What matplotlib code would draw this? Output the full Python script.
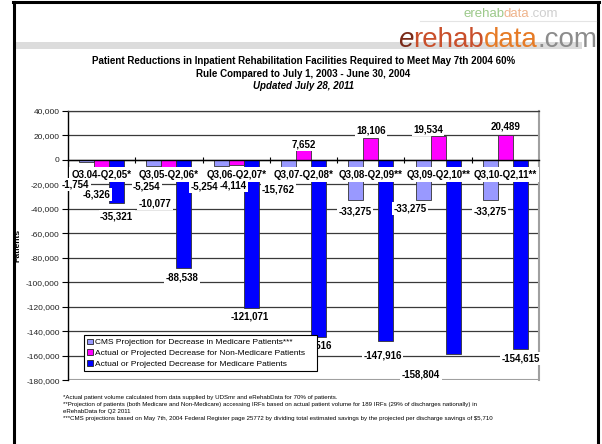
import matplotlib
matplotlib.use("Agg")
import matplotlib.pyplot as plt
from matplotlib.patches import Patch, Rectangle
from matplotlib.lines import Line2D

plt.rcParams['font.family'] = ['Liberation Sans', 'DejaVu Sans']

# ---------------- data ----------------
categories = ["Q3,04-Q2,05*", "Q3,05-Q2,06*", "Q3,06-Q2,07*", "Q3,07-Q2,08*",
              "Q3,08-Q2,09**", "Q3,09-Q2,10**", "Q3,10-Q2,11**"]
cms_projection = [-1754, -5254, -5254, -15762, -33275, -33275, -33275]
non_medicare = [-6326, -10077, -4114, 7652, 18106, 19534, 20489]
medicare = [-35321, -88538, -121071, -144516, -147916, -158804, -154615]

series_names = ["CMS Projection for Decrease in Medicare Patients***",
                "Actual or Projected Decrease for Non-Medicare Patients",
                "Actual or Projected Decrease for Medicare Patients"]
series_colors = ["#9999FF", "#FF00FF", "#0000FF"]

yticks = list(range(-180000, 40001, 20000))

title_lines = ["Patient Reductions in Inpatient Rehabilitation Facilities Required to Meet May 7th 2004 60%",
               "Rule Compared to July 1, 2003 - June 30, 2004"]
subtitle = "Updated July 28, 2011"
footnotes = ["*Actual patient volume calculated from data supplied by UDSmr and eRehabData for 70% of patients.",
             "**Projection of patients (both Medicare and Non-Medicare) accessing IRFs based on actual patient volume for 189 IRFs (29% of discharges nationally) in",
             "eRehabData for Q2 2011",
             "***CMS projections based on May 7th, 2004 Federal Register page 25772 by dividing total estimated savings by the projected per discharge savings of $5,710"]

# label offsets (pixels) relative to bar end, per series
label_offsets = [
    [(-11, -23), (-7, -20), (-17, -20), (-10, -10), (-1, -11), (-13, -8), (0, -11)],
    [(-5, -27), (-14, -31), (-3, -21), (0, 6), (0, 7), (-10, 6), (0, 8)],
    [(0, -13), (-2, -9), (-1, -8), (-6, -9), (-3, -15), (-32, -20), (0, -9)],
]

# ---------------- figure ----------------
W, H = 602, 444
fig = plt.figure(figsize=(W / 100, H / 100), dpi=100)
fig.patch.set_facecolor("white")

def fx(px):
    return px / W

def fy(py):
    return 1 - py / H

# slide frame
fig.add_artist(Line2D([fx(13.5), fx(13.5)], [fy(2), fy(444)], color="black", lw=2.2))
fig.add_artist(Line2D([fx(12.5), fx(598.5)], [fy(2), fy(2)], color="black", lw=2.2))
fig.add_artist(Line2D([fx(597.5), fx(597.5)], [fy(2), fy(444)], color="black", lw=2.2))
# header band
fig.add_artist(Rectangle((fx(15), fy(49)), fx(582) - fx(15), fy(42) - fy(49),
                         facecolor="#dcdcdc", edgecolor="none", zorder=0))
fig.add_artist(Line2D([fx(420), fx(596)], [fy(21), fy(21)], color="#e4e4e4", lw=0.8))

ax = fig.add_axes([fx(68), fy(380.3), fx(539) - fx(68), (380.3 - 110.7) / H])

def chain_logo(parts, x, y, size, alpha=1.0):
    t = ax.annotate(parts[0][0], xy=(fx(x), fy(y)), xycoords="figure fraction",
                    color=parts[0][1], fontsize=size, style=parts[0][2],
                    va="baseline", ha="left", alpha=alpha, annotation_clip=False)
    prev = t
    for txt, col, sty in parts[1:]:
        prev = ax.annotate(txt, xy=(1, 0), xycoords=prev, color=col, fontsize=size,
                           style=sty, va="bottom", ha="left", alpha=alpha,
                           annotation_clip=False)

chain_logo([("e", "#7a2a18", "italic"), ("rehab", "#c94f2b", "normal"),
            ("data", "#e67b26", "normal"), (".com", "#8c8c8c", "normal")],
           398, 47, 20)
chain_logo([("erehab", "#9cc98a", "normal"), ("data", "#efb48c", "normal"),
            (".com", "#cfcfcf", "normal")], 463, 17, 9.5)

# titles
cx = fx((68 + 539) / 2)
fig.text(cx, fy(61), title_lines[0], ha="center", va="center", fontsize=7, fontweight="bold")
fig.text(cx, fy(74), title_lines[1], ha="center", va="center", fontsize=7, fontweight="bold")
fig.text(cx, fy(86), subtitle, ha="center", va="center", fontsize=7, fontweight="bold",
         style="italic")

# ---------------- bars ----------------
x = list(range(len(categories)))
bw = 0.223
all_series = [cms_projection, non_medicare, medicare]
for s, (vals, col, name) in enumerate(zip(all_series, series_colors, series_names)):
    xs = [xi + (s - 1) * bw for xi in x]
    ax.bar(xs, vals, width=bw, color=col, edgecolor="#333333", linewidth=0.6,
           zorder=3, label=name)

# data labels
for s, vals in enumerate(all_series):
    for i, v in enumerate(vals):
        dx, dy = label_offsets[s][i]
        ax.annotate(f"{v:,}", xy=(i + (s - 1) * bw, v), xytext=(dx, dy),
                    textcoords="offset pixels", ha="center", va="center",
                    fontsize=7, fontweight="bold", zorder=6,
                    bbox=dict(boxstyle="square,pad=0.15", fc="white", ec="none"),
                    annotation_clip=False)

# category labels along the zero line
for i, c in enumerate(categories):
    ax.annotate(c, xy=(i, 0), xytext=(0, -15), textcoords="offset pixels",
                ha="center", va="center", fontsize=7, fontweight="bold", zorder=5,
                bbox=dict(boxstyle="square,pad=0.25", fc="white", ec="none"))

# axes styling
ax.set_xlim(-0.5, len(categories) - 0.5)
ax.set_ylim(yticks[0], yticks[-1])
ax.set_yticks(yticks)
ax.set_yticklabels([f"{t:,}" for t in yticks], fontsize=6, color="#222222")
ax.yaxis.grid(True, color="#3a3a3a", lw=0.9, zorder=0)
ax.set_axisbelow(True)
ax.tick_params(axis="y", length=4, width=0.8, pad=2, color="black")

ax.spines["bottom"].set_position(("data", 0))
ax.spines["bottom"].set_color("black")
ax.spines["bottom"].set_linewidth(1.0)
ax.spines["bottom"].set_zorder(4)
ax.set_xticks([i + 0.5 for i in x[:-1]])
ax.set_xticklabels([])
ax.tick_params(axis="x", length=5, width=0.8, direction="inout", color="black")
ax.spines["left"].set_color("black")
ax.spines["left"].set_linewidth(1.0)
ax.spines["top"].set_color("#3a3a3a")
ax.spines["top"].set_linewidth(0.9)
ax.spines["right"].set_color("#a0a0a0")
ax.spines["right"].set_linewidth(1.5)
ax.axhline(yticks[0], color="#a0a0a0", lw=1.5, zorder=2)

ax.set_ylabel("Patients", fontsize=6, fontweight="bold")
ax.yaxis.set_label_coords((22 - 68) / (539 - 68), 0.5)

# legend
handles = [Patch(facecolor=c, edgecolor="#222222", linewidth=0.6) for c in series_colors]
leg = ax.legend(handles, series_names, loc="lower left",
                bbox_to_anchor=(0.034, 0.033, 0.495, 0.13), mode="expand",
                borderaxespad=0, fontsize=6.0, frameon=True, fancybox=False,
                framealpha=1.0, facecolor="white",
                handlelength=0.65, handleheight=0.65, handletextpad=0.3,
                labelspacing=0.38, borderpad=0.4)
leg.get_frame().set_edgecolor("black")
leg.get_frame().set_linewidth(0.8)
leg.set_zorder(10)

# footnotes
for k, line in enumerate(footnotes):
    fig.text(fx(63), fy(397 + k * 7), line, ha="left", va="center", fontsize=4.4)

fig.savefig("out.png", dpi=100)
